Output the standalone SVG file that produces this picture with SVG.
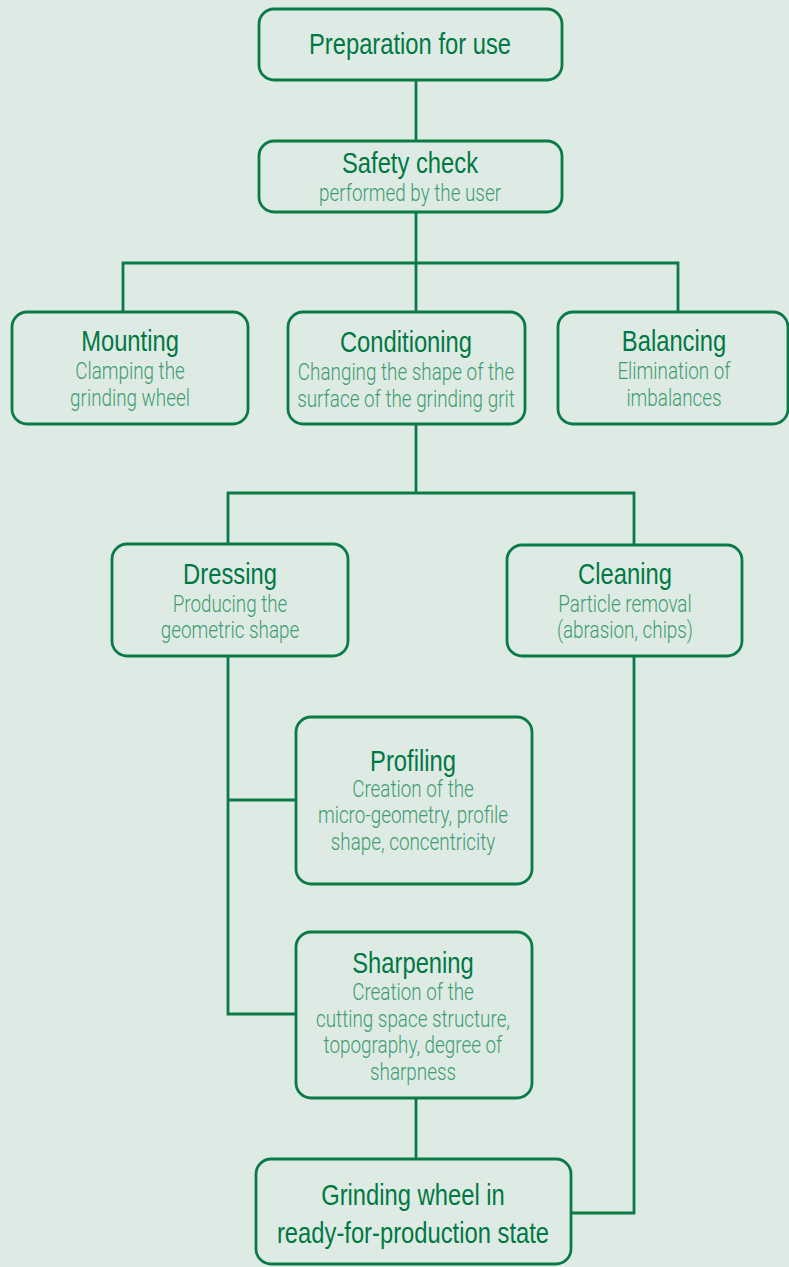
<svg xmlns="http://www.w3.org/2000/svg" width="789" height="1267" viewBox="0 0 789 1267">
<style>
.box{fill:#deebe4;stroke:#0a7a47;stroke-width:2.8}
.con{fill:none;stroke:#0a7a47;stroke-width:2.8}
.t{font-family:"Liberation Sans",Arial,sans-serif;font-size:29px;fill:#007844;text-anchor:middle}
.s{font-family:Roboto,"Liberation Sans",sans-serif;font-weight:300;font-size:23px;fill:#3f9c70;text-anchor:middle}
</style>
<rect width="789" height="1267" fill="#deebe4"/>
<g id="connectors">
<path class="con" d="M416 80V141"/>
<path class="con" d="M416 212V312"/>
<path class="con" d="M123 312V263H678V312"/>
<path class="con" d="M416 424V493"/>
<path class="con" d="M228 544V493H634V545"/>
<path class="con" d="M228 656V1014H296"/>
<path class="con" d="M228 800H296"/>
<path class="con" d="M416 1098V1159"/>
<path class="con" d="M634 656V1213H571"/>
</g>
<g id="n-prep">
<rect class="box" x="259" y="9" width="303" height="71" rx="15"/>
<text class="t" transform="translate(410 54) scale(.82 1)">Preparation for use</text>
</g>
<g id="n-safety">
<rect class="box" x="259" y="141" width="303" height="71" rx="15"/>
<text class="t" transform="translate(410 173) scale(.82 1)">Safety check</text>
<text class="s" transform="translate(410 201) scale(.82 1)">performed by the user</text>
</g>
<g id="n-mounting">
<rect class="box" x="12" y="312" width="236" height="112" rx="15"/>
<text class="t" transform="translate(130 351) scale(.82 1)">Mounting</text>
<text class="s" transform="translate(130 379) scale(.82 1)">Clamping the</text>
<text class="s" transform="translate(130 406) scale(.82 1)">grinding wheel</text>
</g>
<g id="n-conditioning">
<rect class="box" x="288" y="312" width="237" height="112" rx="15"/>
<text class="t" transform="translate(406 352) scale(.82 1)">Conditioning</text>
<text class="s" transform="translate(406 380) scale(.82 1)">Changing the shape of the</text>
<text class="s" transform="translate(406 407) scale(.82 1)">surface of the grinding grit</text>
</g>
<g id="n-balancing">
<rect class="box" x="558" y="312" width="230" height="112" rx="15"/>
<text class="t" transform="translate(674 351) scale(.82 1)">Balancing</text>
<text class="s" transform="translate(674 379) scale(.82 1)">Elimination of</text>
<text class="s" transform="translate(674 406) scale(.82 1)">imbalances</text>
</g>
<g id="n-dressing">
<rect class="box" x="112" y="544" width="236" height="112" rx="15"/>
<text class="t" transform="translate(230 584) scale(.82 1)">Dressing</text>
<text class="s" transform="translate(230 612) scale(.82 1)">Producing the</text>
<text class="s" transform="translate(230 638) scale(.82 1)">geometric shape</text>
</g>
<g id="n-cleaning">
<rect class="box" x="507" y="545" width="235" height="111" rx="15"/>
<text class="t" transform="translate(625 584) scale(.82 1)">Cleaning</text>
<text class="s" transform="translate(625 612) scale(.82 1)">Particle removal</text>
<text class="s" transform="translate(625 638) scale(.82 1)">(abrasion, chips)</text>
</g>
<g id="n-profiling">
<rect class="box" x="296" y="717" width="236" height="167" rx="15"/>
<text class="t" transform="translate(413 771) scale(.82 1)">Profiling</text>
<text class="s" transform="translate(413 797) scale(.82 1)">Creation of the</text>
<text class="s" transform="translate(413 823) scale(.82 1)">micro-geometry, profile</text>
<text class="s" transform="translate(413 850) scale(.82 1)">shape, concentricity</text>
</g>
<g id="n-sharpening">
<rect class="box" x="296" y="932" width="236" height="166" rx="15"/>
<text class="t" transform="translate(413 973) scale(.82 1)">Sharpening</text>
<text class="s" transform="translate(413 1000) scale(.82 1)">Creation of the</text>
<text class="s" transform="translate(413 1027) scale(.82 1)">cutting space structure,</text>
<text class="s" transform="translate(413 1053) scale(.82 1)">topography, degree of</text>
<text class="s" transform="translate(413 1080) scale(.82 1)">sharpness</text>
</g>
<g id="n-ready">
<rect class="box" x="256" y="1159" width="315" height="105" rx="15"/>
<text class="t" transform="translate(413 1205) scale(.82 1)">Grinding wheel in</text>
<text class="t" transform="translate(413 1243) scale(.82 1)">ready-for-production state</text>
</g>
</svg>
